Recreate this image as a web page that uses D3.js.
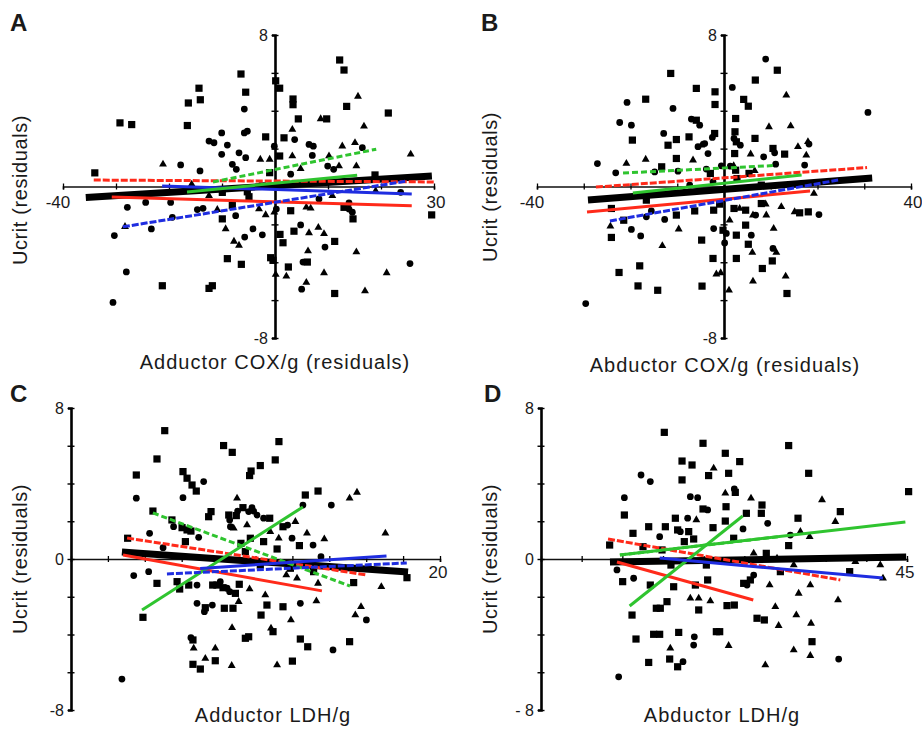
<!DOCTYPE html>
<html>
<head>
<meta charset="utf-8">
<script src="https://cdn.jsdelivr.net/npm/d3@7"></script>
<style>
  body { margin: 0; background: #fff; }
  svg { display: block; }
  text { font-family: "Liberation Sans", Arial, sans-serif; fill: #1a1a1a; }
</style>
</head>
<body>
<svg id="fig" width="922" height="733"></svg>
<script>
// Individual fish: [x residual, Ucrit residual, marker] — s square, c circle, t triangle
const pointsA = [
  [-34.0,0.72,"s"],[-29.25,3.36,"s"],[-27.04,3.27,"s"],[-30.31,-2.59,"c"],[-28.05,-4.51,"c"],[-30.57,-6.12,"c"],
  [-28.3,-2.12,"t"],[-27.86,-1.10,"c"],[-23.33,-2.24,"c"],[-24.4,-0.84,"c"],[-21.26,-5.24,"s"],[-21.13,1.17,"t"],
  [-17.8,1.14,"c"],[-19.69,-0.84,"c"],[-19.37,-1.63,"c"],[-16.54,3.22,"s"],[-16.35,4.41,"s"],[-14.34,5.19,"s"],
  [-14.09,4.58,"s"],[-14.15,0.82,"c"],[-15.72,0.12,"t"],[-14.65,-1.22,"c"],[-13.58,-1.15,"c"],[-12.45,2.40,"c"],
  [-11.51,2.31,"c"],[-10.06,2.83,"c"],[-8.99,2.19,"c"],[-10.06,1.70,"c"],[-8.05,1.17,"c"],[-7.3,0.91,"c"],
  [-6.79,1.78,"c"],[-5.53,1.52,"c"],[-5.79,2.83,"c"],[-5.22,2.92,"c"],[-6.42,5.94,"s"],[-5.53,4.98,"s"],
  [-5.79,4.09,"c"],[-10.88,-1.22,"t"],[-9.94,-1.71,"s"],[-9.31,-2.24,"t"],[-7.42,-1.54,"c"],[-7.74,-2.90,"t"],
  [-6.79,-3.11,"t"],[-5.72,-2.67,"c"],[-8.99,-3.81,"s"],[-6.35,-4.11,"s"],[-12.45,-5.38,"s"],[-11.82,-5.24,"s"],
  [-4.15,-2.24,"c"],[-2.39,-2.55,"c"],[-2.77,1.43,"t"],[-1.76,2.62,"s"],[-1.01,1.43,"t"],[-1.01,0.73,"s"],
  [-0.13,2.13,"c"],[0.88,1.61,"s"],[0.13,5.58,"s"],[0.88,5.19,"s"],[3.40,4.62,"s"],[3.40,4.32,"s"],
  [4.40,3.57,"s"],[3.27,3.01,"t"],[3.71,2.48,"c"],[1.70,2.57,"s"],[3.27,1.61,"t"],[2.96,0.65,"c"],
  [4.84,0.94,"t"],[6.42,2.22,"c"],[7.23,2.13,"c"],[7.04,1.64,"c"],[8.62,3.57,"t"],[9.75,3.57,"s"],
  [10.19,1.61,"t"],[9.94,1.08,"c"],[11.07,0.91,"c"],[12.08,1.08,"t"],[12.70,2.13,"t"],[15.09,2.31,"t"],
  [15.35,1.08,"t"],[16.48,2.05,"c"],[13.52,4.23,"s"],[12.20,6.68,"s"],[13.02,6.15,"s"],[15.66,4.76,"t"],
  [16.79,3.18,"t"],[21.38,3.88,"s"],[18.87,0.61,"s"],[25.60,1.70,"t"],[25.47,-4.07,"c"],[29.56,-1.50,"s"],
  [21.07,-4.56,"t"],[16.98,-5.52,"t"],[15.35,-3.46,"t"],[11.26,-5.65,"s"],[9.25,-4.56,"t"],[9.43,-3.20,"c"],
  [11.26,-2.90,"s"],[8.18,-2.17,"t"],[9.25,-2.50,"t"],[6.42,-2.45,"t"],[4.84,-2.03,"c"],[3.58,-2.36,"s"],
  [5.91,-1.10,"t"],[6.73,-1.15,"t"],[5.28,-3.99,"c"],[6.10,-3.99,"s"],[6.23,-3.41,"t"],[5.03,-5.42,"c"],
  [5.91,-5.07,"t"],[2.52,-4.25,"s"],[2.14,-4.74,"t"],[0.13,-4.65,"t"],[-0.82,-3.76,"s"],[-0.38,-3.90,"s"],
  [1.51,-2.97,"s"],[0.94,-2.53,"s"],[-0.13,-1.36,"t"],[0.25,-1.19,"c"],[2.96,-1.28,"s"],[-1.76,-1.50,"t"],
  [-3.02,-1.19,"t"],[-4.91,-0.54,"s"],[-5.22,-0.28,"s"],[-8.05,-1.01,"s"],[13.96,-1.19,"c"],[14.59,-1.36,"c"],
  [14.72,-1.71,"s"],[13.02,-1.10,"s"],[13.96,-0.87,"c"],[23.71,-0.31,"c"],[18.99,-0.23,"t"],[8.30,-0.66,"c"],
  [10.82,-0.49,"t"],[-2.39,0.03,"s"],[0.13,0.03,"c"],[-9.94,-0.31,"s"],[-12.45,-0.49,"t"]
];

const pointsB = [
  [-29.58,-6.18,"c"],[-27.08,1.21,"c"],[-24.30,-2.10,"t"],[-24.09,-2.69,"s"],[-23.16,0.72,"c"],[-22.45,-4.54,"s"],
  [-22.31,3.38,"c"],[-20.74,4.44,"c"],[-20.88,1.21,"t"],[-19.81,3.24,"c"],[-19.60,2.45,"s"],[-21.45,-1.78,"s"],
  [-19.81,-2.27,"c"],[-17.82,-2.61,"c"],[-18.39,-5.25,"s"],[-18.03,-4.19,"s"],[-16.75,4.61,"s"],[-16.61,-1.60,"c"],
  [-16.61,-0.72,"s"],[-16.75,1.43,"t"],[-15.54,-1.29,"c"],[-14.18,-5.48,"s"],[-14.83,0.77,"c"],[-13.19,-3.13,"t"],
  [-13.33,1.04,"s"],[-12.90,2.80,"c"],[-12.69,-1.74,"c"],[-11.97,2.18,"s"],[-11.40,5.97,"s"],[-10.91,4.12,"c"],
  [-10.19,2.48,"s"],[-10.19,1.48,"s"],[-10.19,-1.51,"s"],[-9.84,0.81,"c"],[-9.69,-2.25,"t"],[-7.48,2.62,"s"],
  [-6.98,3.56,"c"],[-6.63,1.39,"t"],[-6.27,-1.29,"s"],[-5.92,5.18,"s"],[-5.92,3.50,"s"],[-5.20,3.24,"c"],
  [-5.56,2.10,"c"],[-4.85,2.18,"t"],[-4.70,-5.26,"s"],[-4.78,-2.83,"s"],[-4.13,2.27,"c"],[-3.42,1.74,"c"],
  [-3.78,0.92,"c"],[-2.92,0.69,"s"],[-2.49,2.59,"c"],[-2.00,2.80,"s"],[-1.92,5.00,"s"],[-1.92,4.33,"s"],
  [-2.35,-3.80,"s"],[-2.21,-1.25,"s"],[-2.21,-2.22,"c"],[-1.64,-4.63,"t"],[-0.71,-4.56,"t"],[-0.93,-0.93,"s"],
  [-0.21,-2.31,"s"],[0.14,-2.98,"c"],[0.50,-2.48,"c"],[1.07,-5.48,"t"],[1.21,-1.78,"t"],[-0.57,1.09,"c"],
  [1.35,1.07,"c"],[1.78,5.23,"c"],[2.49,3.59,"s"],[2.35,2.89,"s"],[2.14,2.54,"c"],[2.64,2.36,"s"],
  [3.49,2.18,"c"],[2.28,1.74,"s"],[2.07,1.09,"t"],[2.14,-1.16,"s"],[2.64,-2.57,"s"],[2.64,-3.80,"s"],
  [3.35,-1.16,"t"],[2.49,0.86,"s"],[4.21,4.60,"s"],[5.20,4.24,"s"],[4.63,-1.25,"s"],[4.63,-2.04,"s"],
  [5.20,-3.05,"s"],[5.84,-2.57,"c"],[6.20,-1.51,"t"],[6.20,-5.00,"t"],[6.06,-3.49,"t"],[6.70,5.62,"s"],
  [6.63,2.54,"s"],[5.70,1.71,"t"],[6.56,0.83,"t"],[6.77,-1.51,"c"],[7.98,-0.90,"s"],[8.20,-4.33,"s"],
  [8.91,6.73,"c"],[8.48,1.57,"c"],[9.62,3.15,"t"],[8.91,-0.93,"t"],[9.05,-1.51,"t"],[10.48,2.01,"s"],
  [10.83,1.78,"c"],[11.05,1.18,"c"],[10.33,-3.93,"s"],[10.48,-3.27,"c"],[10.62,-2.22,"t"],[11.19,-3.49,"t"],
  [11.40,6.14,"s"],[12.26,-1.07,"t"],[12.97,1.71,"s"],[13.33,4.82,"t"],[13.19,-4.74,"t"],[13.47,-5.65,"s"],
  [14.26,3.19,"t"],[15.11,-1.34,"t"],[15.82,2.10,"t"],[16.18,-1.39,"s"],[17.25,1.13,"c"],[17.60,1.65,"t"],
  [17.96,2.36,"t"],[18.18,2.24,"c"],[18.03,-1.34,"s"],[19.24,-0.37,"t"],[20.31,-1.48,"c"],[30.79,3.91,"c"],
  [2.78,0.42,"s"],[5.35,0.69,"s"],[7.98,0.07,"s"],[-2.35,0.25,"c"],[-7.34,0.07,"c"],[-24.09,-1.16,"s"]
];

const pointsC = [
  [2.76,-6.36,"c"],[3.07,1.10,"s"],[3.40,-0.88,"c"],[3.54,4.45,"s"],[3.54,3.22,"c"],[3.90,-3.09,"s"],
  [4.26,1.36,"c"],[4.21,-0.67,"c"],[4.44,2.54,"s"],[4.66,5.30,"s"],[4.66,-1.29,"s"],[4.99,0.60,"c"],
  [5.08,6.80,"s"],[5.47,2.07,"s"],[5.56,1.71,"c"],[5.75,-1.20,"s"],[5.89,-1.59,"s"],[6.07,3.25,"c"],
  [6.07,4.63,"s"],[6.02,1.66,"s"],[6.29,4.28,"s"],[6.20,0.92,"s"],[6.29,1.54,"s"],[6.38,-1.38,"s"],
  [6.50,1.48,"s"],[6.56,3.92,"s"],[6.61,-4.29,"s"],[6.50,-4.17,"c"],[6.65,-4.73,"t"],[6.61,-5.58,"s"],
  [6.79,3.60,"s"],[6.83,-2.35,"c"],[6.83,-1.38,"c"],[6.92,1.15,"c"],[7.01,-5.83,"s"],[7.19,4.10,"c"],
  [7.28,-2.58,"s"],[7.23,-2.79,"c"],[7.28,-5.27,"t"],[7.46,2.24,"s"],[7.59,2.51,"s"],[7.68,-1.38,"s"],
  [7.66,-2.44,"c"],[7.82,-4.73,"t"],[7.82,-5.39,"s"],[7.91,-1.38,"s"],[8.09,-1.20,"c"],[8.27,6.01,"s"],
  [8.24,-1.52,"s"],[8.31,-2.61,"s"],[8.46,-1.55,"c"],[8.60,-1.73,"c"],[8.55,2.33,"s"],[8.60,2.07,"c"],
  [8.64,1.71,"c"],[8.71,-5.65,"t"],[8.74,5.65,"s"],[8.73,-3.64,"t"],[8.78,-2.61,"s"],[8.82,1.63,"t"],
  [8.91,-1.82,"s"],[8.96,2.30,"s"],[9.00,3.22,"t"],[9.03,2.54,"c"],[9.09,-2.26,"t"],[9.12,-1.34,"s"],
  [9.21,0.83,"s"],[9.32,2.72,"s"],[9.45,0.39,"s"],[9.45,-4.20,"s"],[9.54,1.80,"t"],[9.63,-4.12,"s"],
  [9.63,2.51,"c"],[9.68,-1.59,"t"],[9.68,4.42,"s"],[9.76,4.66,"s"],[9.72,1.10,"s"],[9.81,2.72,"c"],
  [9.90,2.54,"c"],[10.08,2.33,"c"],[10.26,4.95,"s"],[10.30,-2.97,"s"],[10.44,0.92,"s"],[10.44,2.16,"c"],
  [10.53,-1.91,"t"],[10.62,-2.44,"s"],[10.77,2.16,"s"],[10.80,1.45,"t"],[10.84,-3.67,"t"],[10.95,-3.85,"s"],
  [11.07,5.25,"s"],[11.17,-5.62,"t"],[11.27,6.22,"s"],[11.26,1.10,"t"],[11.17,0.53,"s"],[11.49,-2.53,"s"],
  [11.49,1.71,"s"],[11.74,1.80,"c"],[11.67,-0.85,"t"],[11.92,-3.23,"t"],[11.98,1.10,"c"],[12.00,-5.41,"s"],
  [12.16,1.98,"t"],[12.25,-1.02,"t"],[12.38,0.71,"s"],[12.43,-2.35,"c"],[12.43,-4.24,"s"],[12.57,2.86,"c"],
  [12.70,3.39,"s"],[12.79,1.36,"t"],[12.83,-4.65,"s"],[13.12,0.74,"c"],[13.30,-2.23,"t"],[13.39,-1.29,"t"],
  [13.39,3.60,"s"],[13.55,0.12,"c"],[13.73,1.06,"t"],[14.11,2.86,"c"],[14.20,-4.82,"c"],[15.10,3.22,"t"],
  [15.10,-4.38,"s"],[15.32,-1.25,"s"],[15.50,3.53,"t"],[15.41,-2.97,"t"],[15.72,-2.53,"t"],[16.01,-3.23,"c"],
  [16.82,-1.47,"t"],[17.04,1.36,"t"],[18.21,-0.99,"s"],[13.15,-0.67,"s"],[11.89,-0.49,"s"],[10.26,-0.32,"s"]
];

const pointsD = [
  [9.55,-6.24,"c"],[8.44,0.74,"s"],[9.34,-0.58,"c"],[10.25,3.25,"c"],[10.25,2.33,"s"],[10.04,-1.20,"s"],
  [11.19,-2.97,"s"],[11.31,1.36,"s"],[11.39,-1.02,"c"],[11.68,-4.24,"s"],[12.30,4.45,"c"],[13.44,4.10,"c"],
  [12.54,0.65,"s"],[13.24,1.71,"s"],[13.24,-5.48,"s"],[13.44,-1.38,"s"],[13.85,-3.99,"s"],[14.18,-2.61,"s"],
  [14.67,-2.61,"s"],[14.59,1.18,"c"],[14.59,-3.99,"s"],[14.88,0.48,"s"],[15.16,6.71,"s"],[15.29,1.71,"s"],
  [15.49,-2.26,"s"],[15.82,-5.30,"s"],[15.90,-4.73,"t"],[16.31,-1.47,"s"],[16.52,2.16,"s"],[16.80,-5.71,"s"],
  [16.93,-3.89,"s"],[16.80,1.54,"s"],[17.13,1.45,"c"],[17.34,5.19,"s"],[17.34,4.19,"s"],[17.46,-5.44,"c"],
  [17.62,0.92,"s"],[18.03,2.16,"c"],[18.16,1.45,"s"],[18.36,3.30,"c"],[18.36,-2.08,"t"],[18.57,4.98,"s"],
  [18.77,1.06,"s"],[18.85,-4.12,"c"],[18.77,-4.56,"c"],[19.10,2.07,"t"],[18.98,-1.38,"s"],[19.26,3.25,"c"],
  [19.39,-2.70,"s"],[19.39,-2.08,"t"],[19.92,6.13,"s"],[19.92,2.65,"s"],[20.49,2.60,"c"],[20.61,4.42,"s"],
  [20.33,-0.32,"s"],[20.49,-1.11,"s"],[20.82,-2.23,"t"],[21.23,4.81,"t"],[21.15,1.66,"s"],[21.56,-3.85,"s"],
  [21.97,-3.85,"s"],[22.66,5.60,"s"],[22.66,2.01,"s"],[22.66,3.48,"t"],[22.75,2.77,"s"],[23.07,4.54,"s"],
  [23.07,-4.59,"t"],[22.87,-2.47,"s"],[23.77,3.71,"c"],[23.89,3.53,"s"],[23.69,1.10,"s"],[23.77,-2.44,"s"],
  [24.43,5.16,"s"],[24.84,1.59,"c"],[25.25,2.42,"s"],[25.82,3.22,"t"],[25.74,-1.11,"s"],[25.33,-1.38,"c"],
  [26.15,-0.85,"c"],[26.56,-3.14,"s"],[27.17,2.86,"s"],[27.09,2.42,"s"],[27.46,-3.23,"s"],[27.58,-5.62,"t"],
  [27.70,0.30,"s"],[27.87,1.89,"c"],[28.11,-1.38,"t"],[28.81,-2.53,"t"],[29.22,-3.53,"t"],[30.45,6.01,"s"],
  [30.45,0.71,"s"],[30.66,1.27,"c"],[31.07,-4.82,"t"],[31.39,-2.97,"t"],[31.60,2.16,"s"],[31.68,-1.82,"t"],
  [31.89,1.45,"t"],[32.91,4.54,"s"],[33.03,1.18,"t"],[33.11,-1.38,"t"],[33.20,-3.41,"t"],[33.11,-5.12,"t"],
  [33.32,-4.38,"s"],[34.55,3.13,"t"],[36.19,1.98,"t"],[36.80,2.51,"s"],[36.52,-2.17,"t"],[36.60,-5.30,"c"],
  [37.95,-0.67,"s"],[38.65,-0.14,"t"],[41.72,-0.32,"t"],[42.05,-1.02,"t"],[45.20,3.57,"s"],[29.43,-0.67,"s"],
  [24.92,-1.29,"s"],[31.07,-0.32,"t"],[29.02,0.04,"t"],[26.15,0.30,"t"],[15.98,-0.32,"s"]
];

// Regression fits: [series, x1, y1, x2, y2]
const fitsA = [
  ["pooled",-35.7,-0.58,29.6,0.55],
  ["redDashed",-34.2,0.34,30.2,0.24],
  ["red",-30.8,-0.55,25.8,-1.02],
  ["blue",-21.3,0.03,25.8,-0.39],
  ["blueDashed",-28.7,-2.13,24.9,0.29],
  ["greenDashed",-11.7,0.24,19.1,1.97],
  ["green",-16.6,-0.29,15.5,0.60]
];
const fitsB = [
  ["pooled",-29.1,-0.71,31.7,0.45],
  ["redDashed",-27.4,-0.03,30.6,1.00],
  ["red",-29.3,-1.35,18.4,-0.24],
  ["greenDashed",-21.6,0.71,10.9,1.11],
  ["green",-19.5,-0.34,16.6,0.61],
  ["blueDashed",-24.4,-1.82,24.4,0.34]
];
const fitsC = [
  ["pooled",2.76,0.37,18.27,-0.69],
  ["redDashed",3.04,1.11,16.04,-0.85],
  ["red",2.82,0.21,13.6,-1.69],
  ["greenDashed",4.44,2.44,15.12,-1.43],
  ["green",3.85,-2.70,12.57,2.76],
  ["blueDashed",5.2,-0.79,18.2,-0.21],
  ["blue",7.0,-0.50,17.1,0.16]
];
const fitsD = [
  ["pooled",8.48,-0.16,44.9,0.10],
  ["redDashed",8.24,1.06,36.8,-1.11],
  ["red",9.34,-0.16,26.1,-2.17],
  ["green",9.7,0.21,44.8,1.96],
  ["greenDashed",9.7,0.21,29.4,1.19],
  ["green",10.9,-2.49,24.8,2.28],
  ["blue",14.6,0.05,42.05,-1.01]
];

// Axis domains, tick steps and endpoint labels
const xDomains = [[-40,30],[-40,40],[0,20],[0,45]];
const xTickSteps = [10,10,2,5];
const yDomain = [-8,8];
const yTickStep = 2;
const xEndLabels = [["-40","30"],["-40","40"],["20"],["45"]];
const yEndLabelsA = [["8",8],["-8",-8]];
const yEndLabelsB = [["8",8],["-8",-8]];
const yEndLabelsC = [["8",8],["0",0],["-8",-8]];
const yEndLabelsD = [["8",8],["0",0],["- 8",-8]];
const panelLetters = ["A","B","C","D"];
const xTitles = ["Adductor COX/g (residuals)","Abductor COX/g (residuals)","Adductor LDH/g","Abductor LDH/g"];
const yTitle = "Ucrit (residuals)";

// Line styles per fit series
const fitStyle = {
  pooled:      {stroke:"#000",    width:7,   dash:null},
  red:         {stroke:"#ff2a1a", width:3,   dash:null},
  redDashed:   {stroke:"#ff2a1a", width:3,   dash:"7,2"},
  green:       {stroke:"#2fc42f", width:3,   dash:null},
  greenDashed: {stroke:"#2fc42f", width:3,   dash:"6,3"},
  blue:        {stroke:"#1f2de0", width:3,   dash:null},
  blueDashed:  {stroke:"#1f2de0", width:3,   dash:"7,2"}
};
const markerType = {s:d3.symbolSquare, c:d3.symbolCircle, t:d3.symbolTriangle};
const markerSize = {s:52, c:36, t:27};

// Panel placement on the page
const layout = [
  {xr:[63,434],  yr:[338,35],  letter:[10,31],  yTitle:[27,190],  xTitle:[275,369], xLabelMode:"ends"},
  {xr:[537,911], yr:[338,35],  letter:[481,31], yTitle:[497,187], xTitle:[725,372], xLabelMode:"ends"},
  {xr:[71,440],  yr:[710,408], letter:[10,402], yTitle:[27,559],  xTitle:[273,722], xLabelMode:"right"},
  {xr:[541,907], yr:[710,408], letter:[484,402],yTitle:[497,559], xTitle:[722,722], xLabelMode:"right"}
];
const points = [pointsA,pointsB,pointsC,pointsD];
const fits = [fitsA,fitsB,fitsC,fitsD];
const yEndLabels = [yEndLabelsA,yEndLabelsB,yEndLabelsC,yEndLabelsD];

const svg = d3.select("#fig");

layout.forEach((L, i) => {
  const x = d3.scaleLinear().domain(xDomains[i]).range(L.xr);
  const y = d3.scaleLinear().domain(yDomain).range(L.yr);
  const g = svg.append("g");
  const x0 = x(0), y0 = y(0);

  // x axis through y = 0
  const xt = d3.range(xDomains[i][0], xDomains[i][1] + 0.001, xTickSteps[i]);
  const xAxis = g.append("g").attr("transform", `translate(0,${y0})`)
    .call(d3.axisBottom(x).tickValues(xt).tickSize(3).tickFormat(""));
  xAxis.select(".domain").attr("stroke", "#111").attr("stroke-width", 1.6);
  xAxis.selectAll(".tick line").attr("y1", -3).attr("y2", 3).attr("stroke-width", 1.3);

  // y axis through x = 0
  const yt = d3.range(yDomain[0], yDomain[1] + 0.001, yTickStep);
  const yAxis = g.append("g").attr("transform", `translate(${x0},0)`)
    .call(d3.axisLeft(y).tickValues(yt).tickSize(3).tickFormat(""));
  yAxis.select(".domain").attr("stroke", "#000").attr("stroke-width", 2.6);
  yAxis.selectAll(".tick line").attr("x1", -3.5).attr("x2", 3.5).attr("stroke-width", 1.4);

  // data markers
  g.append("g").selectAll("path").data(points[i]).join("path")
    .attr("transform", d => `translate(${x(d[0])},${y(d[1])})`)
    .attr("d", d => d3.symbol(markerType[d[2]], markerSize[d[2]])())
    .attr("fill", "#000");

  // regression lines, pooled first
  const order = fits[i].slice().sort((a, b) => (a[0] === "pooled" ? -1 : 0) - (b[0] === "pooled" ? -1 : 0));
  g.append("g").selectAll("line").data(order).join("line")
    .attr("x1", d => x(d[1])).attr("y1", d => y(d[2]))
    .attr("x2", d => x(d[3])).attr("y2", d => y(d[4]))
    .attr("stroke", d => fitStyle[d[0]].stroke)
    .attr("stroke-width", d => fitStyle[d[0]].width)
    .attr("stroke-dasharray", d => fitStyle[d[0]].dash)
    .attr("stroke-linecap", "butt");

  // y endpoint labels
  g.selectAll("text.ylab").data(yEndLabels[i]).join("text")
    .attr("class", "ylab")
    .attr("x", x0 - 7).attr("y", d => y(d[1]) + 6)
    .attr("text-anchor", "end").attr("font-size", 16)
    .text(d => d[0]);

  // x endpoint labels
  const xl = xEndLabels[i];
  if (L.xLabelMode === "ends") {
    g.append("text").attr("x", x(xDomains[i][0]) - 5).attr("y", y0 + 21)
      .attr("text-anchor", "middle").attr("font-size", 17).text(xl[0]);
    g.append("text").attr("x", x(xDomains[i][1]) + 2).attr("y", y0 + 21)
      .attr("text-anchor", "middle").attr("font-size", 17).text(xl[1]);
  } else {
    g.append("text").attr("x", x(xDomains[i][1]) - 2).attr("y", y0 + 19)
      .attr("text-anchor", "middle").attr("font-size", 17).text(xl[0]);
  }

  // axis titles
  g.append("text")
    .attr("transform", `translate(${L.yTitle[0]},${L.yTitle[1]}) rotate(-90)`)
    .attr("text-anchor", "middle").attr("font-size", 20).attr("letter-spacing", 0.6)
    .text(yTitle);
  g.append("text").attr("x", L.xTitle[0]).attr("y", L.xTitle[1])
    .attr("text-anchor", "middle").attr("font-size", 20).attr("letter-spacing", 1)
    .text(xTitles[i]);

  // panel letter
  g.append("text").attr("x", L.letter[0]).attr("y", L.letter[1])
    .attr("font-size", 24).attr("font-weight", "bold").attr("fill", "#000")
    .text(panelLetters[i]);
});
</script>
</body>
</html>
